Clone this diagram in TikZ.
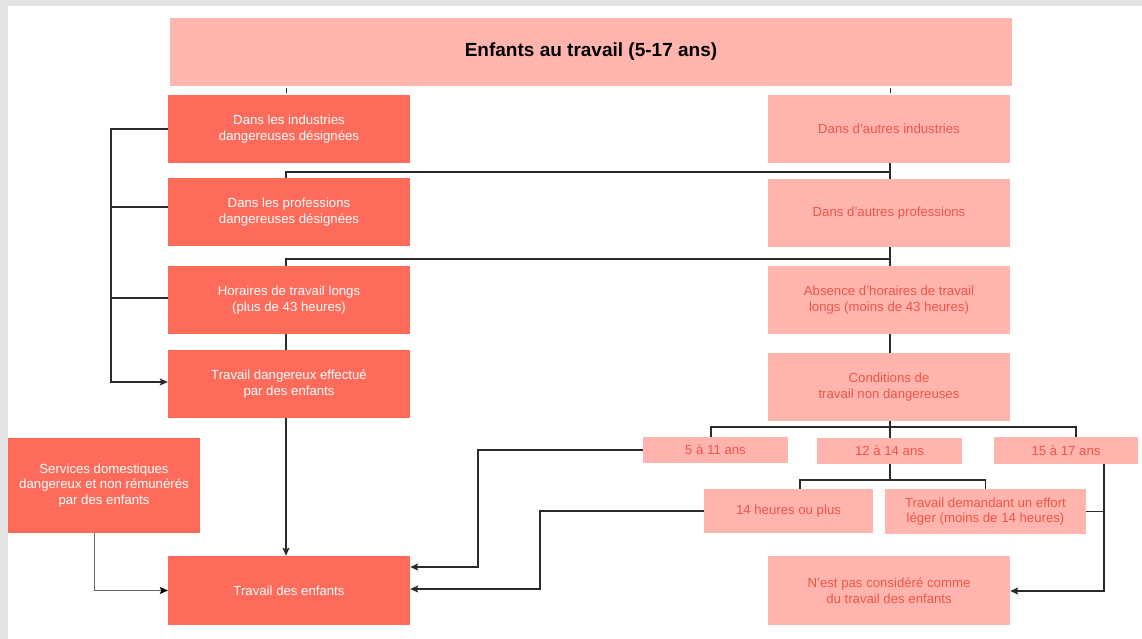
\documentclass[tikz,border=0pt]{standalone}
\usepackage{fontspec}
\setmainfont{Liberation Sans}
\usetikzlibrary{arrows.meta,calc}
\definecolor{darkc}{HTML}{FF6B5B}
\definecolor{lightc}{HTML}{FFB5AD}
\definecolor{ltext}{HTML}{EE5548}
\definecolor{framec}{HTML}{E4E4E4}
\definecolor{wirec}{HTML}{2B2B2B}
\begin{document}
\begin{tikzpicture}[x=1pt,y=-1pt,
  box/.style={rectangle, inner sep=0pt, align=center, font=\fontsize{13.2}{15.8}\selectfont},
  darkbox/.style={box, fill=darkc, text=white},
  lightbox/.style={box, fill=lightc, text=ltext},
  wire/.style={draw=wirec, line width=1.2pt},
  arrow/.style={wire, -{Stealth[length=8pt,width=7pt,inset=1.5pt]}},
  sdarrow/.style={draw=gray!80!black, line width=0.9pt, -{Stealth[length=8pt,width=7pt,inset=1.5pt,color=black]}}
]
\useasboundingbox (0,0) rectangle (1142,639);
\fill[white] (0,0) rectangle (1142,639);
\fill[framec] (0,0) rectangle (1142,6);
\fill[framec] (0,0) rectangle (8,639);

% title
\node[lightbox, text=black, font=\bfseries\fontsize{19}{22}\selectfont, minimum width=842pt, minimum height=68pt] (title) at (591,52) {Enfants au travail (5-17 ans)};

% left column
\node[darkbox, minimum width=242pt, minimum height=68pt] (L1) at (289,129) {Dans les industries\\dangereuses désignées};
\node[darkbox, minimum width=242pt, minimum height=68pt] (L2) at (289,212) {Dans les professions\\dangereuses désignées};
\node[darkbox, minimum width=242pt, minimum height=68pt] (L3) at (289,300) {Horaires de travail longs\\(plus de 43 heures)};
\node[darkbox, minimum width=242pt, minimum height=68pt] (L4) at (289,384) {Travail dangereux effectué\\par des enfants};
\node[darkbox, minimum width=242pt, minimum height=69pt] (LT) at (289,590.5) {Travail des enfants};
\node[darkbox, minimum width=192pt, minimum height=95pt] (SD) at (104,485.5) {Services domestiques\\dangereux et non rémunérés\\par des enfants};

% right column
\node[lightbox, minimum width=242pt, minimum height=68pt] (R1) at (889,129) {Dans d’autres industries};
\node[lightbox, minimum width=242pt, minimum height=68pt] (R2) at (889,213) {Dans d’autres professions};
\node[lightbox, minimum width=242pt, minimum height=68pt] (R3) at (889,300) {Absence d’horaires de travail\\longs (moins de 43 heures)};
\node[lightbox, minimum width=242pt, minimum height=68pt] (R4) at (889,387) {Conditions de\\travail non dangereuses};
\node[lightbox, minimum width=145pt, minimum height=26pt] (A1) at (715.5,450) {5 à 11 ans};
\node[lightbox, minimum width=145pt, minimum height=26pt] (A2) at (889.5,451) {12 à 14 ans};
\node[lightbox, minimum width=144pt, minimum height=27pt] (A3) at (1066,450.5) {15 à 17 ans};
\node[lightbox, minimum width=169pt, minimum height=44pt] (H1) at (788.5,511) {14 heures ou plus};
\node[lightbox, minimum width=201pt, minimum height=45pt] (H2) at (985.5,511.5) {Travail demandant un effort\\léger (moins de 14 heures)};
\node[lightbox, minimum width=242pt, minimum height=69pt] (NP) at (889,590.5) {N’est pas considéré comme\\du travail des enfants};

% helper coordinates
\coordinate (bx) at (111,0);
\coordinate (lx1) at ([xshift=-3pt]L1.north);
\coordinate (rx1) at ([xshift=1pt]R1.north);
\coordinate (j1) at (890,172);
\coordinate (j2) at (890,259);
\coordinate (j3) at (890,427);
\coordinate (j4) at (890,480);
\coordinate (k1) at (478,567);
\coordinate (k2) at (540,589);
\coordinate (k3) at (1104,591);

% title stubs
\draw[wirec, line width=0.8pt] (lx1 |- title.south) ++(0,2) -- ++(0,5);
\draw[wirec, line width=0.8pt] (rx1 |- title.south) ++(0,2) -- ++(0,5);

% left bracket
\draw[arrow] (L1.west) -- (L1.west -| bx) |- ([yshift=2pt]L4.west);
\draw[wire] ([yshift=5pt]L2.west) -- ([yshift=5pt]L2.west -| bx);
\draw[wire] ([yshift=2pt]L3.west) -- ([yshift=2pt]L3.west -| bx);

% right spine and branches
\draw[wire] ([xshift=1pt]R1.south) -- ([xshift=1pt]R2.north);
\draw[wire] (j1) -| ([xshift=-3pt]L2.north);
\draw[wire] ([xshift=1pt]R2.south) -- ([xshift=1pt]R3.north);
\draw[wire] (j2) -| ([xshift=-3pt]L3.north);
\draw[wire] ([xshift=-3pt]L3.south) -- ([xshift=-3pt]L4.north);
\draw[arrow] ([xshift=-3pt]L4.south) -- ([xshift=-3pt]LT.north);
\draw[wire] ([xshift=1pt]R3.south) -- ([xshift=1pt]R4.north);

% ages
\draw[wire] ([xshift=1pt]R4.south) -- ([xshift=0.5pt]A2.north);
\draw[wire] ([xshift=-4.5pt]A1.north) |- (j3) -| ([xshift=10pt]A3.north);
\draw[arrow] (A1.west) -| (k1) -- (k1 -| LT.east);

% 12-14 split
\draw[wire] ([xshift=0.5pt]A2.south) -- (j4);
\draw[wire] ([xshift=11.5pt]H1.north) |- (j4) -| (H2.north);
\draw[arrow] (H1.west) -| (k2) -- (k2 -| LT.east);

% 15-17
\draw[arrow] ([xshift=38pt]A3.south) -- (k3) -- (k3 -| NP.east);
\draw[wire] (H2.east) -- (H2.east -| k3);

% domestic services
\draw[sdarrow] ([xshift=-10pt]SD.south) |- (LT.west);
\end{tikzpicture}
\end{document}
